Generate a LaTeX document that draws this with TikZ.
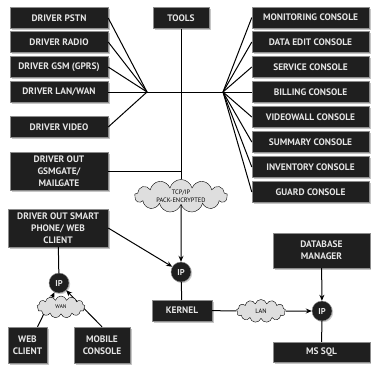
\documentclass[tikz,border=0pt]{standalone}
\usepackage{fontspec}
\setmainfont{PT Sans}
\usetikzlibrary{arrows.meta,positioning,shapes.symbols,shadows}

\begin{document}
\begin{tikzpicture}[x=1pt,y=-1pt,
  box/.style={draw=black!45,fill=black!88,text=white!90!black,inner sep=1pt,
    align=center,font=\bfseries\fontsize{9.4}{12}\selectfont,
    drop shadow={shadow xshift=1.6pt,shadow yshift=-1.6pt,opacity=.45}},
  ipnode/.style={circle,draw=black!45,fill=black!88,text=white!90!black,
    minimum size=20pt,inner sep=0pt,font=\bfseries\fontsize{8.5}{9}\selectfont,
    drop shadow={shadow xshift=1.2pt,shadow yshift=-1.2pt,opacity=.4}},
  netcloud/.style={cloud,cloud puffs=13,cloud ignores aspect,draw=black,
    fill=black!13,inner sep=0pt,align=center,
    font=\fontsize{6.4}{7.6}\selectfont},
  wire/.style={line width=1pt},
  arr/.style={wire,-{Stealth[length=6pt,width=5pt]}}]
  % driver, console e rete verso il kernel
  \useasboundingbox (0,0) rectangle (371,369);

  \node[box,minimum width=98pt,minimum height=21pt] (pstn) at (59,18) {DRIVER PSTN};
  \node[box,minimum width=98pt,minimum height=21pt] (radio) at (59,42) {DRIVER RADIO};
  \node[box,minimum width=98pt,minimum height=21pt] (gsm) at (59,67) {DRIVER GSM (GPRS)};
  \node[box,minimum width=98pt,minimum height=21pt] (lanwan) at (59,92) {DRIVER LAN/WAN};
  \node[box,minimum width=98pt,minimum height=21pt] (video) at (59,127) {DRIVER VIDEO};
  \node[box,minimum width=98pt,minimum height=38pt] (gsmgate) at (59,171)
    {DRIVER OUT\\GSMGATE/\\MAILGATE};
  \node[box,minimum width=56pt,minimum height=21pt] (tools) at (181,18) {TOOLS};

  \node[box,minimum width=117pt,minimum height=21pt] (monitor) at (310.5,17.5) {MONITORING CONSOLE};
  \node[box,minimum width=117pt,minimum height=21pt] (dataedit) at (310.5,42) {DATA EDIT CONSOLE};
  \node[box,minimum width=117pt,minimum height=21pt] (service) at (310.5,67) {SERVICE CONSOLE};
  \node[box,minimum width=117pt,minimum height=21pt] (billing) at (310.5,92) {BILLING CONSOLE};
  \node[box,minimum width=117pt,minimum height=21pt] (videowall) at (310.5,117) {VIDEOWALL CONSOLE};
  \node[box,minimum width=117pt,minimum height=21pt] (summary) at (310.5,142) {SUMMARY CONSOLE};
  \node[box,minimum width=117pt,minimum height=21pt] (inventory) at (310.5,167) {INVENTORY CONSOLE};
  \node[box,minimum width=117pt,minimum height=21pt] (guard) at (310.5,192) {GUARD CONSOLE};

  \coordinate (hubL) at (147,92);
  \coordinate (hubR) at (223,92);
  \foreach \n in {pstn,radio,gsm,lanwan,video}
    \draw[wire] (\n.east) -- (hubL);
  \draw[wire] (hubL) -- (hubR);
  \foreach \n in {monitor,dataedit,service,billing,videowall,summary,inventory,guard}
    \draw[wire] (hubR) -- (\n.west);

  \node[netcloud,minimum width=93pt,minimum height=33pt] (tcp) at (181,196)
    {TCP/IP\\PACK-ENCRYPTED};
  \draw[wire] (tools) -- (tcp);
  \draw[wire] (gsmgate.east) -- (gsmgate.east -| tools.south);

  \node[ipnode] (ipK) at (181,272) {IP};
  \node[box,minimum width=60pt,minimum height=21pt] (kernel) at (182,310.5) {KERNEL};
  \node[netcloud,minimum width=49pt,minimum height=23pt] (lan) at (261,311) {LAN};
  \node[ipnode] (ipDB) at (322,311) {IP};
  \node[box,minimum width=97pt,minimum height=35pt] (dbman) at (321.5,250.5) {DATABASE\\MANAGER};
  \node[box,minimum width=97pt,minimum height=20pt] (mssql) at (321.5,352) {MS SQL};

  \node[box,minimum width=100pt,minimum height=38pt] (phone) at (58,228)
    {DRIVER OUT SMART\\PHONE/ WEB\\CLIENT};
  \node[ipnode] (ipW) at (59,283) {IP};
  \node[box,minimum width=39pt,minimum height=36pt] (web) at (27.5,345) {WEB\\CLIENT};
  \node[box,minimum width=56pt,minimum height=36pt] (mobile) at (102,345) {MOBILE\\CONSOLE};

  \draw[arr] (tcp) -- (ipK);
  \draw[arr] (phone.east) -- (ipK);
  \draw[wire] (ipK) -- (kernel);
  \draw[wire] (kernel) -- (lan);
  \draw[arr] (lan) -- (ipDB);
  \draw[arr] (dbman) -- (ipDB);
  \draw[wire] (ipDB) -- (mssql);
  \draw[wire] (phone) -- (ipW);
  \draw[arr] ([xshift=10pt]web.north) -- (ipW);
  \draw[arr] (mobile.north) -- (ipW);
  \node[netcloud,minimum width=48pt,minimum height=22pt,
        font=\fontsize{5.4}{6}\selectfont] (wan) at (61,307) {WAN};
\end{tikzpicture}
\end{document}
